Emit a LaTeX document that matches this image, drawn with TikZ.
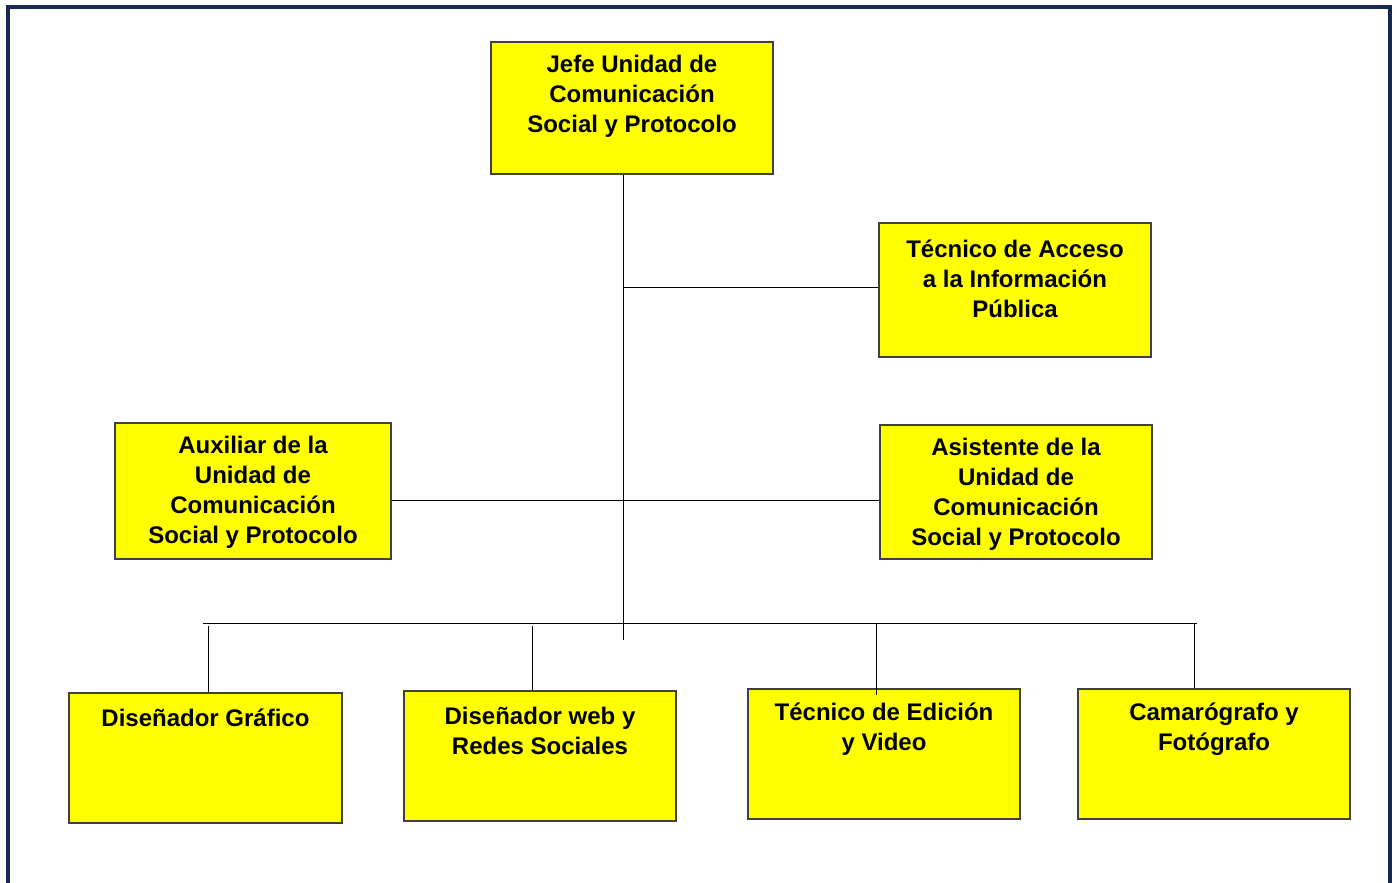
\documentclass[tikz,border=0pt]{standalone}
\usepackage{fontspec}
\setmainfont{Liberation Sans}
\definecolor{frame}{HTML}{17294F}
\definecolor{boxfill}{HTML}{FFFF00}
\begin{document}
\begin{tikzpicture}[x=1pt,y=-1pt,
  orgbox/.style={draw=black!75,line width=1.1pt,fill=boxfill,inner sep=0pt},
  orgtext/.style={align=center,inner sep=0pt,font=\fontsize{24}{30}\selectfont\bfseries},
  conn/.style={line width=1pt,black}]
\useasboundingbox (0,0) rectangle (1397,883);
\draw[frame,line width=4pt] (8,900) -- (8,7.5) -- (1390,7.5) -- (1390,900);
% boxes
\node[orgbox,minimum width=282pt,minimum height=132pt] (jefe) at (632,108) {};
\node[orgtext] (jefet) at (632,96) {Jefe Unidad de\\Comunicación\\Social y Protocolo};
\node[orgbox,minimum width=272pt,minimum height=134pt] (acceso) at (1015,290) {};
\node[orgtext] (accesot) at (1015,278.5) {Técnico de Acceso\\a la Información\\Pública};
\node[orgbox,minimum width=276pt,minimum height=136pt] (aux) at (253,491) {};
\node[orgtext] (auxt) at (253,492) {Auxiliar de la\\Unidad de\\Comunicación\\Social y Protocolo};
\node[orgbox,minimum width=272pt,minimum height=134pt] (asis) at (1016,492) {};
\node[orgtext] (asist) at (1016,494) {Asistente de la\\Unidad de\\Comunicación\\Social y Protocolo};
\node[orgbox,minimum width=273pt,minimum height=130pt] (graf) at (205.5,758) {};
\node[orgtext] (graft) at (205.5,718) {Diseñador Gráfico};
\node[orgbox,minimum width=272pt,minimum height=130pt] (web) at (540,756) {};
\node[orgtext] (webt) at (540,731) {Diseñador web y\\Redes Sociales};
\node[orgbox,minimum width=272pt,minimum height=130pt] (edic) at (884,754) {};
\node[orgtext] (edict) at (884,729) {Técnico de Edición\\y Video};
\node[orgbox,minimum width=272pt,minimum height=130pt] (cam) at (1214,754) {};
\node[orgtext] (camt) at (1214,729.5) {Camarógrafo y\\Fotógrafo};
% connector points
\coordinate (trunkend) at (623,640);
\coordinate (busl) at (203,623);
\coordinate (busr) at (1197,623);
% connectors
\draw[conn] (jefe.south -| trunkend) -- (trunkend);
\draw[conn] (acceso.west |- 0,287) -- (623,287);
\draw[conn] (aux.east |- 0,500) -- (asis.west |- 0,500);
\draw[conn] (busl) -- (busr);
\draw[conn] (208,626) -- (graf.north -| 208,0);
\draw[conn] (532,626) -- (web.north -| 532,0);
\draw[conn] (876,623) -- (876,695);
\draw[conn] (1194,623) -- (cam.north -| 1194,0);
\end{tikzpicture}
\end{document}
